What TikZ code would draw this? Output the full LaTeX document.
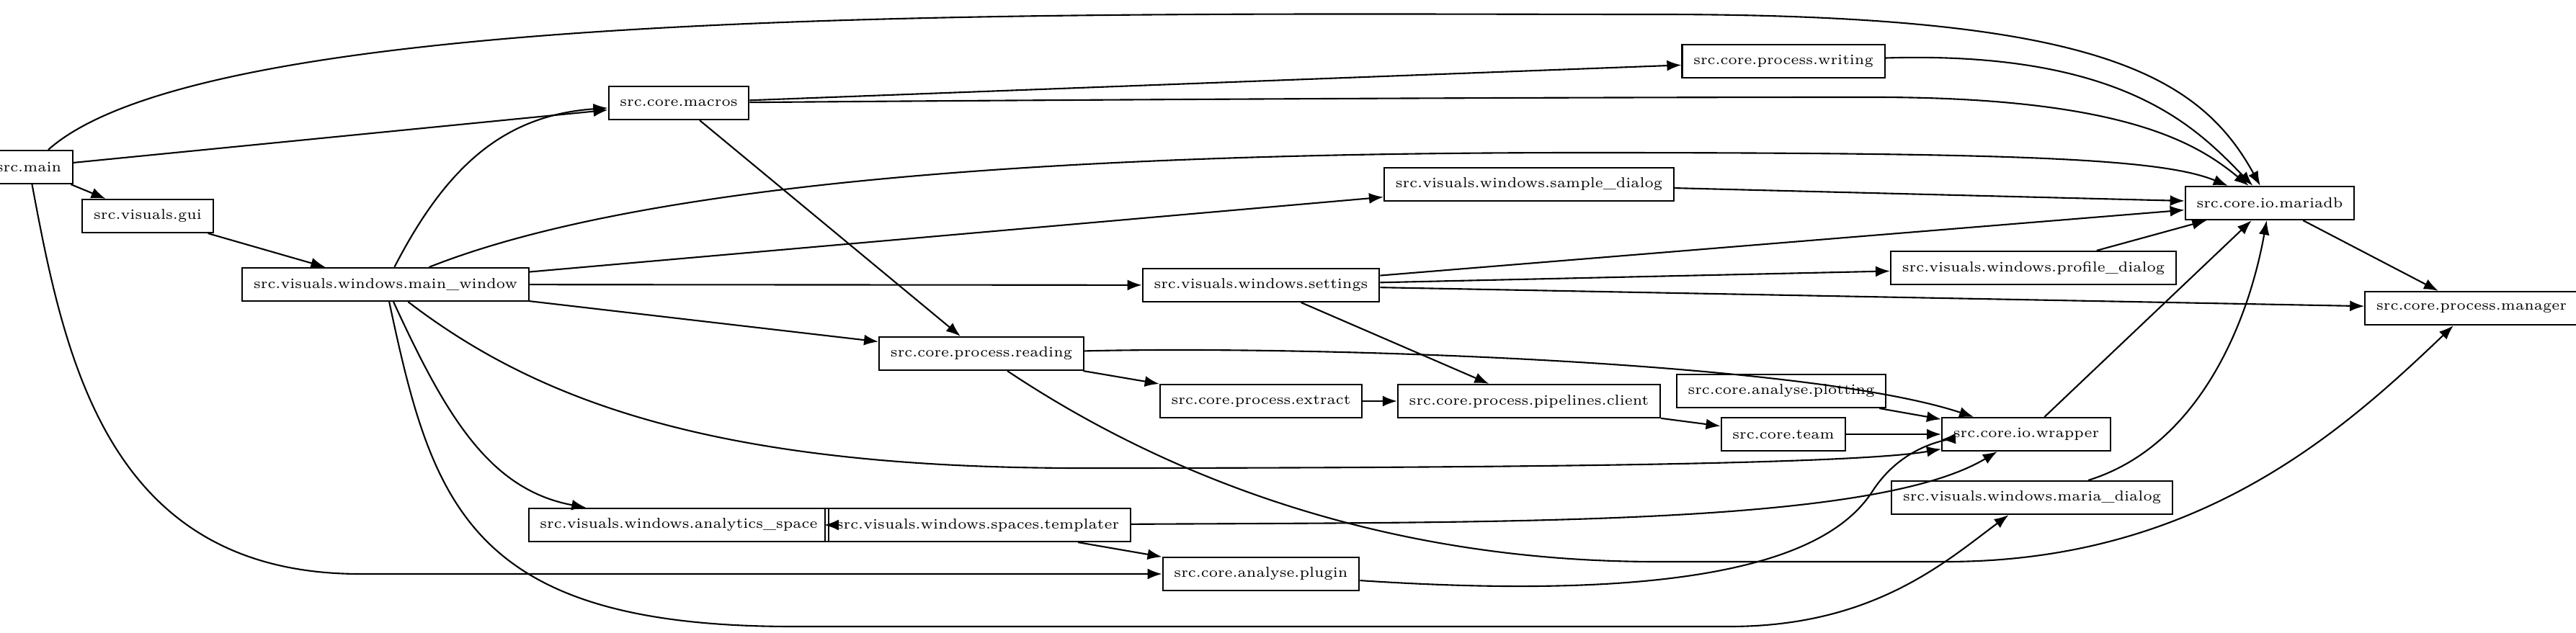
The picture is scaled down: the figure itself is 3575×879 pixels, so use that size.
\documentclass[tikz,border=0pt]{standalone}
\usepackage{tikz}
\usetikzlibrary{arrows.meta}
\tikzset{
	modnode/.style={rectangle, draw=black, semithick, minimum height=0.46cm, inner xsep=4.5pt, font=\fontsize{5.7}{7}\selectfont},
	dep/.style={-{Latex[length=2mm,width=1.5mm]}, semithick}
}
\begin{document}
\begin{tikzpicture}[x=0.01cm, y=-0.01cm]
		\useasboundingbox (0,0) rectangle (3575,879);
		\node[modnode] at (40,232) (main) {src.main};
		\node[modnode] at (205,300) (gui) {src.visuals.gui};
		\node[modnode] at (535,395) (mainwin) {src.visuals.windows.main\_window};
		\node[modnode] at (942,143) (macros) {src.core.macros};
		\node[modnode] at (2475,85) (writing) {src.core.process.writing};
		\node[modnode] at (2122,256) (sample) {src.visuals.windows.sample\_dialog};
		\node[modnode] at (3150,282) (mariadb) {src.core.io.mariadb};
		\node[modnode] at (1750,396) (settings) {src.visuals.windows.settings};
		\node[modnode] at (2822,372) (profile) {src.visuals.windows.profile\_dialog};
		\node[modnode] at (3430,428) (manager) {src.core.process.manager};
		\node[modnode] at (1362,491) (reading) {src.core.process.reading};
		\node[modnode] at (2472,543) (plotting) {src.core.analyse.plotting};
		\node[modnode] at (1750,557) (extract) {src.core.process.extract};
		\node[modnode] at (2122,557) (client) {src.core.process.pipelines.client};
		\node[modnode] at (2475,603) (team) {src.core.team};
		\node[modnode] at (2812,603) (wrapper) {src.core.io.wrapper};
		\node[modnode] at (2820,691) (mariadlg) {src.visuals.windows.maria\_dialog};
		\node[modnode] at (942,729) (analytics) {src.visuals.windows.analytics\_space};
		\node[modnode] at (1357,729) (templater) {src.visuals.windows.spaces.templater};
		\node[modnode] at (1750,797) (plugin) {src.core.analyse.plugin};
		%Lines
		\draw[dep] (main) .. controls (300,0) and (1500,20) .. (2300,20) .. controls (2900,20) and (3050,100) .. (mariadb);
		\draw[dep] (main) -- (macros);
		\draw[dep] (main) -- (gui);
		\draw[dep] (main) .. controls (90,500) and (150,797) .. (500,797) -- (plugin);
		\draw[dep] (gui) -- (mainwin);
		\draw[dep] (mainwin) .. controls (620,230) and (700,160) .. (macros);
		\draw[dep] (mainwin) .. controls (900,250) and (1500,212) .. (2200,212) .. controls (2800,212) and (3000,220) .. (mariadb);
		\draw[dep] (mainwin) -- (sample);
		\draw[dep] (mainwin) -- (settings);
		\draw[dep] (mainwin) -- (reading);
		\draw[dep] (mainwin) .. controls (750,560) and (1000,650) .. (1500,650) .. controls (2300,650) and (2600,640) .. (wrapper);
		\draw[dep] (mainwin) .. controls (620,580) and (680,680) .. (analytics);
		\draw[dep] (mainwin) .. controls (600,700) and (650,870) .. (1100,870) -- (2400,870) .. controls (2600,870) and (2700,780) .. (mariadlg);
		\draw[dep] (macros) -- (writing);
		\draw[dep] (macros) .. controls (1300,140) and (2000,135) .. (2600,135) .. controls (2950,135) and (3050,200) .. (mariadb);
		\draw[dep] (macros) -- (reading);
		\draw[dep] (writing) .. controls (2950,70) and (3050,180) .. (mariadb);
		\draw[dep] (sample) -- (mariadb);
		\draw[dep] (mariadb) -- (manager);
		\draw[dep] (settings) -- (mariadb);
		\draw[dep] (settings) -- (profile);
		\draw[dep] (settings) -- (manager);
		\draw[dep] (settings) -- (client);
		\draw[dep] (profile) -- (mariadb);
		\draw[dep] (reading) .. controls (1800,480) and (2500,500) .. (wrapper);
		\draw[dep] (reading) -- (extract);
		\draw[dep] (reading) .. controls (1600,650) and (1900,780) .. (2300,780) -- (2700,780) .. controls (3050,780) and (3250,600) .. (manager);
		\draw[dep] (extract) -- (client);
		\draw[dep] (client) -- (team);
		\draw[dep] (team) -- (wrapper);
		\draw[dep] (plotting) -- (wrapper);
		\draw[dep] (wrapper) -- (mariadb);
		\draw[dep] (mariadlg) .. controls (3050,620) and (3120,450) .. (mariadb);
		\draw[dep] (templater) .. controls (2100,725) and (2600,730) .. (wrapper);
		\draw[dep] (templater) -- (plugin);
		\draw[dep] (analytics) -- (templater);
		\draw[dep] (plugin) .. controls (2400,840) and (2550,760) .. (2600,680) .. controls (2640,620) and (2700,610) .. (wrapper);
	\end{tikzpicture}
\end{document}
